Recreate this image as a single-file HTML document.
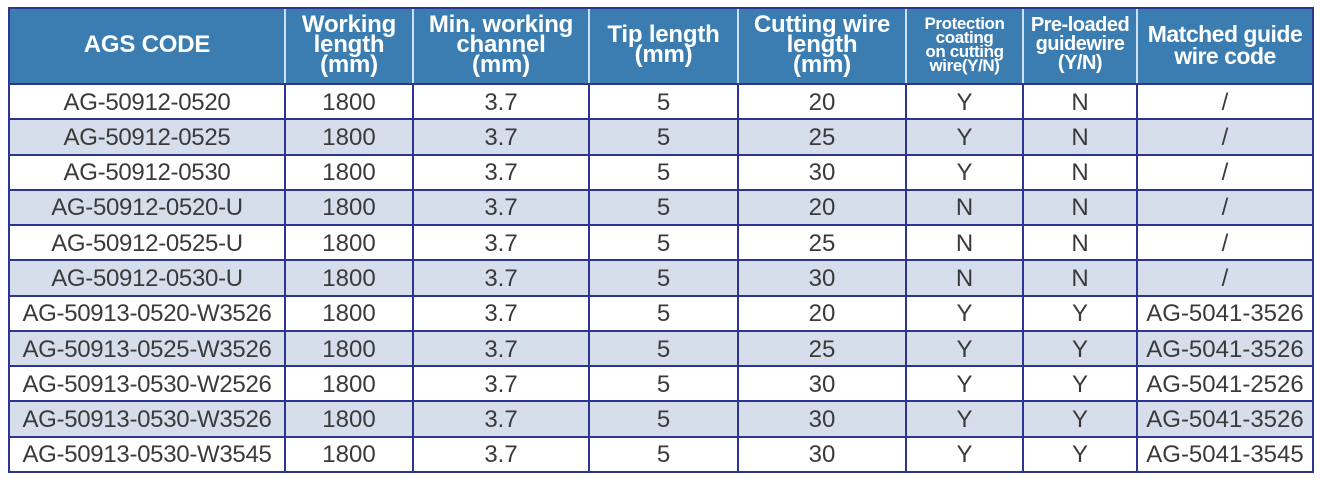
<!DOCTYPE html>
<html><head><meta charset="utf-8"><style>
html,body{margin:0;padding:0;background:#fff;width:1320px;height:482px;overflow:hidden}
.c{position:absolute;display:flex;align-items:center;justify-content:center;text-align:center;box-sizing:border-box;font-family:"Liberation Sans",Arial,sans-serif}
.h{background:#3b7db0;color:#fff;font-weight:bold;font-size:24px;line-height:20px;letter-spacing:-0.2px}
.b{color:#3a3a3a;font-size:24px}
.alt{background:#d7deeb}
.vl{position:absolute;background:#2c3592;width:2px}
.hl{position:absolute;background:#2c3592;height:2px;left:9px;width:1305px}
.hv{position:absolute;background:#cfe0ee;width:2px;top:9px;height:74px}
</style></head><body>
<div id="t"></div>
<script>
var xs=[9,285,413,589,738,906,1023,1137,1313];
var hd=["AGS CODE","Working<br>length<br>(mm)","Min. working<br>channel<br>(mm)","Tip length<br>(mm)","Cutting wire<br>length<br>(mm)","Protection<br>coating<br>on cutting<br>wire(Y/N)","Pre-loaded<br>guidewire<br>(Y/N)","Matched guide<br>wire code"];
var rows=[["AG-50912-0520","20","Y","N","/"],["AG-50912-0525","25","Y","N","/"],["AG-50912-0530","30","Y","N","/"],["AG-50912-0520-U","20","N","N","/"],["AG-50912-0525-U","25","N","N","/"],["AG-50912-0530-U","30","N","N","/"],["AG-50913-0520-W3526","20","Y","Y","AG-5041-3526"],["AG-50913-0525-W3526","25","Y","Y","AG-5041-3526"],["AG-50913-0530-W2526","30","Y","Y","AG-5041-2526"],["AG-50913-0530-W3526","30","Y","Y","AG-5041-3526"],["AG-50913-0530-W3545","30","Y","Y","AG-5041-3545"]];
var h="";
for(var i=0;i<8;i++){var cls="c h";var fs=i==5?"font-size:17px;line-height:14px;letter-spacing:-0.4px;":(i==6?"font-size:20px;line-height:19px;letter-spacing:-0.5px;":(i==7?"font-size:23px;line-height:22px;letter-spacing:-0.5px;":""));
h+='<div class="'+cls+'" style="'+fs+'left:'+xs[i]+'px;top:7px;width:'+(xs[i+1]-xs[i])+'px;height:77px;padding-bottom:2px">'+hd[i]+'</div>';}
var top0=84,rh=(472-84)/11;
for(var r=0;r<11;r++){var y=top0+r*rh;var d=rows[r];var vals=[d[0],"1800","3.7","5",d[1],d[2],d[3],d[4]];
for(var i=0;i<8;i++){h+='<div class="c b'+(r%2?' alt':'')+'" style="left:'+xs[i]+'px;top:'+y+'px;width:'+(xs[i+1]-xs[i])+'px;height:'+rh+'px;padding-top:2px'+(i==0?';letter-spacing:-0.3px':'')+'">'+vals[i]+'</div>';}}
for(var r=0;r<=11;r++){h+='<div class="hl" style="top:'+(top0+r*rh-1)+'px"></div>';}
h+='<div class="hl" style="top:7px"></div>';
for(var i=0;i<9;i++){h+='<div class="vl" style="left:'+(xs[i]-1)+'px;top:'+(i==0||i==8?7:83)+'px;height:'+(i==0||i==8?466:389)+'px"></div>';if(i>0&&i<8)h+='<div class="hv" style="left:'+(xs[i]-1)+'px"></div>';}
document.getElementById("t").innerHTML=h;
</script>
</body></html>
